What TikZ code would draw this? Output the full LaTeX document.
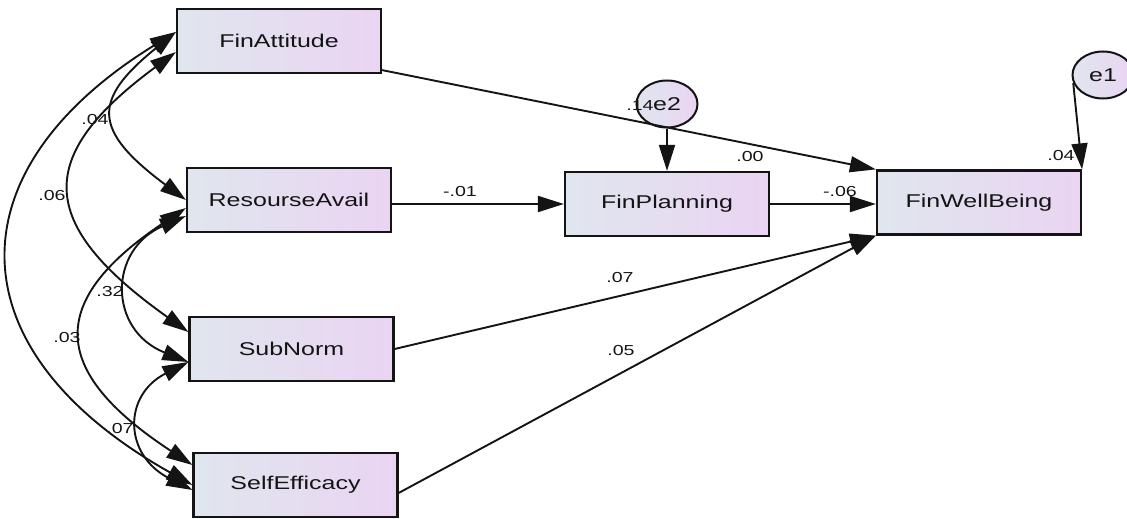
\documentclass[tikz,border=0pt]{standalone}
\usepackage{fontspec}
\newfontfamily\labfont[FakeStretch=1.35]{Liberation Sans}
\usetikzlibrary{arrows.meta,shapes.geometric,calc}
\definecolor{boxL}{RGB}{224,230,238}
\definecolor{boxR}{RGB}{234,212,242}
\definecolor{ink}{RGB}{20,20,20}
\begin{document}
\begin{tikzpicture}[x=1pt,y=-1pt,
 varbox/.style={draw=ink,line width=2.2pt,left color=boxL,right color=boxR,minimum width=204pt,minimum height=64pt,inner sep=0pt,font=\labfont\fontsize{18.5}{20}\selectfont,text=ink},
 errnode/.style={ellipse,draw=ink,line width=2pt,left color=boxL,right color=boxR,minimum width=61pt,minimum height=47pt,inner sep=0pt,font=\labfont\fontsize{18.5}{20}\selectfont,text=ink},
 onearrow/.style={draw=ink,line width=1.9pt,-{Triangle[length=26pt,width=16pt]}},
 cov/.style={draw=ink,line width=1.9pt,{Triangle[length=26pt,width=16pt]}-{Triangle[length=26pt,width=16pt]}},
 lbl/.style={font=\labfont\fontsize{14.5}{16}\selectfont,text=ink,inner sep=0pt}]
\useasboundingbox (0,0) rectangle (1127,519);
% nodes
\node[varbox] (fa) at (279,41) {FinAttitude};
\node[varbox] (ra) at (289,200) {ResourseAvail};
\node[varbox] (sn) at (291.5,349) {SubNorm};
\node[varbox] (se) at (295.5,485) {SelfEfficacy};
\node[varbox] (fp) at (667,204) {FinPlanning};
\node[varbox] (fw) at (979,202.5) {FinWellBeing};
\node[errnode] (e2) at (667,104) {e2};
\node[errnode] (e1) at (1103,75) {e1};
% regression paths
\draw[onearrow] ($(fa.south east)+(0,-4)$) -- (fw.north west);
\draw[onearrow] (e2.south) -- (fp.north);
\draw[onearrow] (fp.west -| ra.east) -- (fp.west);
\draw[onearrow] (fp.east) -- (fp.east -| fw.west);
\draw[onearrow] (e1.195) -- (fw.north east);
\draw[onearrow] (sn.east) -- (fw.south west);
\draw[onearrow] ($(se.east)+(0,8)$) -- (fw.south west);
% covariances
\draw[cov] ($(fa.west)+(0,-9)$) .. controls (-48,170) and (-48,350) .. (se.west);
\draw[cov] ($(fa.west)+(0,11)$) .. controls (35,156) and (35,223) .. ($(sn.west)+(0,-17)$);
\draw[cov] ($(fa.west)+(0,-9)$) .. controls (92,100) and (92,130) .. (ra.west);
\draw[cov] ($(ra.west)+(0,8)$) .. controls (47.5,300) and (47.5,370) .. ($(se.west)+(0,-20)$);
\draw[cov] ($(ra.west)+(0,16)$) .. controls (108,250) and (108,330) .. ($(sn.west)+(0,13)$);
\draw[cov] ($(sn.west)+(0,13)$) .. controls (123,395) and (123,455) .. ($(se.west)+(0,5)$);
% labels
\node[lbl] (l00) at (750,157) {.00};
\node[lbl] (l14) at (640,106) {.14};
\node[lbl] (l01) at (460,192) {-.01};
\node[lbl] (l06b) at (840,192) {-.06};
\node[lbl] (l04b) at (1061,156) {.04};
\node[lbl] (l07b) at (620,278) {.07};
\node[lbl] (l05) at (621,351) {.05};
\node[lbl] (l04) at (95,120) {.04};
\node[lbl] (l06) at (52,196) {.06};
\node[lbl] (l32) at (110,292) {.32};
\node[lbl] (l03) at (67,338) {.03};
\node[lbl] (l07) at (120,429) {.07};
\end{tikzpicture}
\end{document}
